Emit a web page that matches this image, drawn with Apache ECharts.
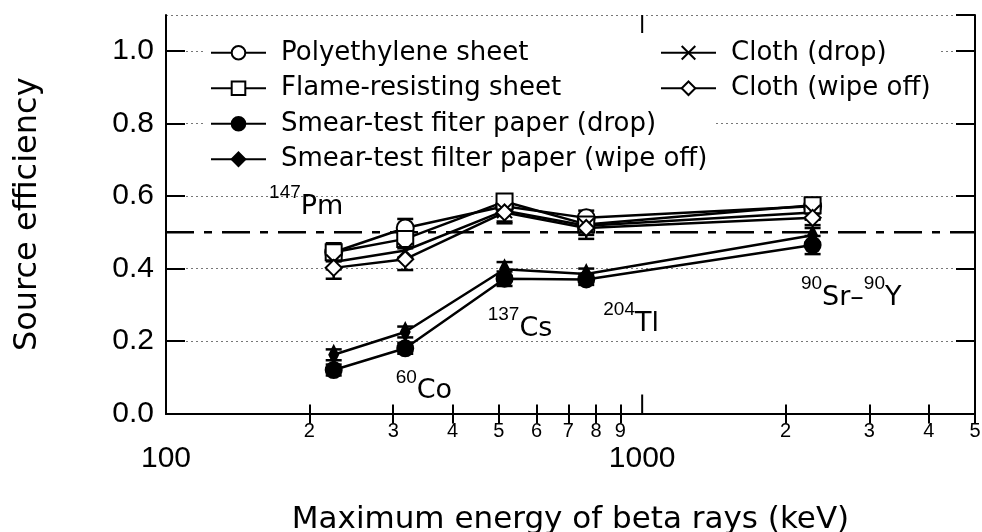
<!DOCTYPE html>
<html>
<head>
<meta charset="utf-8">
<script src="https://cdn.jsdelivr.net/npm/echarts@6/dist/echarts.min.js"></script>
<style>
html, body { margin: 0; padding: 0; background: #fff; }
#chart { width: 982px; height: 532px; }
</style>
</head>
<body>
<div id="chart"></div>
<script>
// max beta energies (keV): 147Pm, 60Co, 137Cs, 204Tl, 90Sr-90Y
const energies = [225, 318, 514, 763, 2280];

const polyethylene   = [0.445, 0.512, 0.572, 0.540, 0.572];
const flameSheet     = [0.445, 0.482, 0.585, 0.522, 0.575];
const smearDrop      = [0.120, 0.180, 0.372, 0.370, 0.465];
const smearWipe      = [0.162, 0.225, 0.398, 0.385, 0.492];
const clothDrop      = [0.418, 0.450, 0.560, 0.518, 0.555];
const clothWipe      = [0.402, 0.426, 0.555, 0.512, 0.540];

const polyethyleneErr = [0.02, 0.025, 0.02, 0.02, 0.02];
const flameSheetErr   = [0.025, 0.02, 0.02, 0.02, 0.02];
const smearDropErr    = [0.015, 0.015, 0.02, 0.015, 0.025];
const smearWipeErr    = [0.015, 0.015, 0.02, 0.015, 0.02];
const clothDropErr    = [0.02, 0.02, 0.03, 0.025, 0.02];
const clothWipeErr    = [0.03, 0.03, 0.03, 0.03, 0.02];

const refLevel = 0.5;

// x axis ticks
const minorTicks = [200, 300, 400, 500, 600, 700, 800, 900, 2000, 3000, 4000, 5000];
const minorLabels = ['2', '3', '4', '5', '6', '7', '8', '9', '2', '3', '4', '5'];
const majorTicks = [1000];
const majorLabels = [100, 1000];

// nuclide annotations (x in keV, y in efficiency)
const annoX = [197, 348, 554, 948, 2748];
const annoY = [0.570, 0.061, 0.234, 0.247, 0.320];
const annoText = ['{s|147}{m|Pm}', '{s|60}{m|Co}', '{s|137}{m|Cs}', '{s|204}{m|Tl}', '{s|90}{m|Sr\u2013}{s|90}{m|Y}'];

const names = [
    'Polyethylene sheet',
    'Flame-resisting sheet',
    'Smear-test fiter paper (drop)',
    'Smear-test filter paper (wipe off)',
    'Cloth (drop)',
    'Cloth (wipe off)'
];

const latin = 'DejaVu Sans';
const nums = 'Liberation Sans';

const chart = echarts.init(document.getElementById('chart'));

function lineSeries(name, vals, symbol, size, fill) {
    return {
        name: name,
        type: 'line',
        data: energies.map((e, i) => [e, vals[i]]),
        symbol: symbol,
        symbolSize: size,
        lineStyle: { color: '#000', width: 2.5 },
        itemStyle: { color: fill, borderColor: '#000', borderWidth: 2 },
        z: 3
    };
}

function errorBars(vals, errs) {
    return {
        type: 'custom',
        silent: true,
        z: 2,
        encode: { x: 0, y: [1, 2] },
        data: energies.map((e, i) => [e, vals[i] - errs[i], vals[i] + errs[i]]),
        renderItem: function (params, api) {
            const lo = api.coord([api.value(0), api.value(1)]);
            const hi = api.coord([api.value(0), api.value(2)]);
            const w = 8;
            const st = { stroke: '#000', lineWidth: 2.5 };
            return {
                type: 'group',
                children: [
                    { type: 'line', shape: { x1: lo[0], y1: lo[1], x2: hi[0], y2: hi[1] }, style: st },
                    { type: 'line', shape: { x1: lo[0] - w, y1: lo[1], x2: lo[0] + w, y2: lo[1] }, style: st },
                    { type: 'line', shape: { x1: hi[0] - w, y1: hi[1], x2: hi[0] + w, y2: hi[1] }, style: st }
                ]
            };
        }
    };
}

const crossPath = 'path://M0,0L10,10M10,0L0,10';

const legendBase = {
    orient: 'vertical',
    top: 35,
    padding: [0, 8, 0, 5],
    itemWidth: 55,
    itemHeight: 17,
    itemGap: 0,
    backgroundColor: '#fff',
    textStyle: { fontFamily: latin, fontSize: 26, color: '#000', lineHeight: 35.5, padding: [0, 0, 0, 10] }
};

const option = {
    animation: false,
    backgroundColor: '#fff',
    textStyle: { fontFamily: nums, color: '#000' },
    grid: { left: 166, right: 7, top: 15, bottom: 118.5, containLabel: false, outerBoundsMode: 'none' },
    legend: [
        Object.assign({}, legendBase, { data: names.slice(0, 4), left: 205 }),
        Object.assign({}, legendBase, { data: names.slice(4), left: 655 })
    ],
    xAxis: [
        {
            type: 'log',
            logBase: 10,
            min: 100,
            max: 5000,
            position: 'bottom',
            name: 'Maximum energy of beta rays (keV)',
            nameLocation: 'middle',
            nameGap: 91,
            nameTextStyle: { fontFamily: latin, fontSize: 31, color: '#000' },
            axisLine: { lineStyle: { color: '#000', width: 2 } },
            axisTick: { show: true, inside: true, length: 9, customValues: minorTicks, lineStyle: { color: '#000', width: 2 } },
            axisLabel: {
                customValues: majorLabels.concat(minorTicks),
                margin: 8,
                fontFamily: nums,
                fontSize: 20,
                color: '#000',
                formatter: function (v) {
                    const k = minorTicks.indexOf(v);
                    if (k >= 0) return '{sm|' + minorLabels[k] + '}';
                    return '{big|' + v + '}';
                },
                rich: {
                    sm: { fontFamily: nums, fontSize: 20, color: '#000', lineHeight: 20 },
                    big: { fontFamily: nums, fontSize: 30, color: '#000', lineHeight: 74 }
                }
            },
            splitLine: { show: false }
        },
        {
            type: 'log',
            logBase: 10,
            min: 100,
            max: 5000,
            position: 'top',
            axisLine: { lineStyle: { color: '#000', width: 2 } },
            axisTick: { show: true, inside: true, length: 10, customValues: minorTicks, lineStyle: { color: '#000', width: 2 } },
            axisLabel: { show: false },
            splitLine: { show: false }
        }
    ],
    yAxis: [
        {
            type: 'value',
            min: 0,
            max: 1.1,
            interval: 0.2,
            position: 'left',
            name: 'Source efficiency',
            nameLocation: 'middle',
            nameGap: 122,
            nameTextStyle: { fontFamily: latin, fontSize: 32, color: '#000' },
            axisLine: { show: true, lineStyle: { color: '#000', width: 2 } },
            axisTick: { show: true, inside: true, length: 19, lineStyle: { color: '#000', width: 2 } },
            axisLabel: {
                margin: 12,
                fontFamily: nums,
                fontSize: 30,
                color: '#000',
                showMaxLabel: false,
                formatter: v => v.toFixed(1)
            },
            splitLine: { show: true, lineStyle: { color: '#777', width: 1, type: [2, 3] } }
        },
        {
            type: 'value',
            min: 0,
            max: 1.1,
            interval: 0.2,
            position: 'right',
            axisLine: { show: true, lineStyle: { color: '#000', width: 2 } },
            axisTick: { show: true, inside: true, length: 19, lineStyle: { color: '#000', width: 2 } },
            axisLabel: { show: false },
            splitLine: { show: false }
        }
    ],
    series: [
        // reference level
        {
            type: 'line',
            data: [[100, refLevel], [5000, refLevel]],
            symbol: 'none',
            silent: true,
            z: 1,
            lineStyle: { color: '#000', width: 2.5, type: [28, 10, 8, 10] }
        },
        // long ticks at decades
        {
            type: 'custom',
            silent: true,
            z: 5,
            data: majorTicks.map(v => [v]),
            encode: { x: 0 },
            renderItem: function (params, api) {
                const cs = params.coordSys;
                const x = api.coord([api.value(0), 0])[0];
                const st = { stroke: '#000', lineWidth: 2 };
                return {
                    type: 'group',
                    children: [
                        { type: 'line', shape: { x1: x, y1: cs.y + cs.height, x2: x, y2: cs.y + cs.height - 19 }, style: st },
                        { type: 'line', shape: { x1: x, y1: cs.y, x2: x, y2: cs.y + 18 }, style: st }
                    ]
                };
            }
        },
        errorBars(polyethylene, polyethyleneErr),
        errorBars(flameSheet, flameSheetErr),
        errorBars(smearDrop, smearDropErr),
        errorBars(smearWipe, smearWipeErr),
        errorBars(clothDrop, clothDropErr),
        errorBars(clothWipe, clothWipeErr),
        lineSeries(names[0], polyethylene, 'circle', 17, '#fff'),
        lineSeries(names[1], flameSheet, 'rect', 16, '#fff'),
        lineSeries(names[2], smearDrop, 'circle', 16, '#000'),
        lineSeries(names[3], smearWipe, 'diamond', [9, 18], '#000'),
        lineSeries(names[4], clothDrop, crossPath, 15, '#000'),
        lineSeries(names[5], clothWipe, 'diamond', 16, '#fff'),
        // nuclide labels
        {
            type: 'custom',
            silent: true,
            z: 6,
            clip: false,
            data: annoX.map((x, i) => [x, annoY[i]]),
            encode: { x: 0, y: 1 },
            renderItem: function (params, api) {
                const p = api.coord([api.value(0), api.value(1)]);
                return {
                    type: 'text',
                    x: p[0],
                    y: p[1],
                    style: {
                        text: annoText[params.dataIndex],
                        align: 'center',
                        verticalAlign: 'middle',
                        fill: '#000',
                        rich: {
                            s: { fontFamily: nums, fontSize: 19, fill: '#000', padding: [0, 0, 28, 0] },
                            m: { fontFamily: latin, fontSize: 27, fill: '#000' }
                        }
                    }
                };
            }
        }
    ]
};

chart.setOption(option);
</script>
</body>
</html>
